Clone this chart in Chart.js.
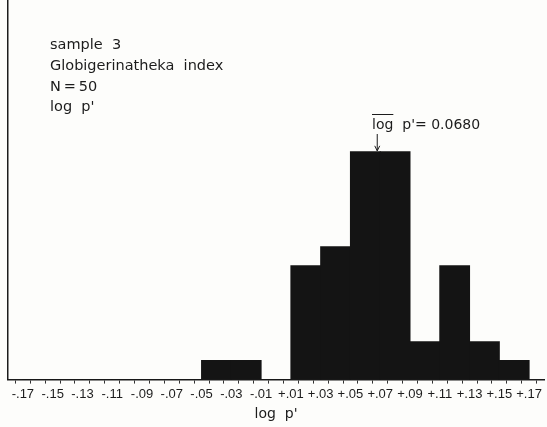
<!DOCTYPE html>
<html>
<head>
<meta charset="utf-8">
<script src="https://cdn.jsdelivr.net/npm/chart.js@4/dist/chart.umd.min.js"></script>
<style>
  html, body { margin: 0; padding: 0; background: #fdfdfb; }
  #wrap { width: 547px; height: 427px; position: relative; }
</style>
</head>
<body>
<div id="wrap"><canvas id="c"></canvas></div>
<script>
// Histogram of log p' (class width 0.02, class limits at odd hundredths)
const binCenters = [-0.16, -0.14, -0.12, -0.10, -0.08, -0.06, -0.04, -0.02, 0.00,
                     0.02,  0.04,  0.06,  0.08,  0.10,  0.12,  0.14,  0.16];
const counts     = [0, 0, 0, 0, 0, 0, 1, 1, 0,
                    6, 7, 12, 12, 2, 6, 2, 1];

// Labelled class limits along the axis
const tickValues = [-0.17, -0.15, -0.13, -0.11, -0.09, -0.07, -0.05, -0.03, -0.01,
                     0.01,  0.03,  0.05,  0.07,  0.09,  0.11,  0.13,  0.15,  0.17];
const tickLabels = ['-.17', '-.15', '-.13', '-.11', '-.09', '-.07', '-.05', '-.03', '-.01',
                    '+.01', '+.03', '+.05', '+.07', '+.09', '+.11', '+.13', '+.15', '+.17'];

const infoLines = ['sample  3', 'Globigerinatheka  index', 'N\u2009=\u200950', 'log  p\''];
const meanValue = 0.0680;
const meanLabel = '0.0680';

const INK = '#1c1c1c';
const FONT = '"DejaVu Sans", "Liberation Sans", sans-serif';
const TICK_FONT = '"Liberation Sans Narrow", "Liberation Sans", sans-serif';

const textPlugin = {
  id: 'histText',
  afterDraw(chart) {
    const ctx = chart.ctx;
    const xs = chart.scales.x, ys = chart.scales.y;
    ctx.save();
    ctx.fillStyle = INK;
    ctx.strokeStyle = INK;
    ctx.textBaseline = 'middle';
    ctx.textAlign = 'left';
    ctx.font = '14.5px ' + FONT;
    const lineY = [45, 66, 87, 107];
    infoLines.forEach((t, i) => ctx.fillText(t, 50, lineY[i]));

    // mean annotation with overlined "log" and arrow to the mean
    const mx = xs.getPixelForValue(meanValue);
    const top = ys.getPixelForValue(Math.max(...counts));
    const ay = 125;
    const lx = 372;
    ctx.font = '14px ' + FONT;
    ctx.fillText('log', lx, ay);
    const logW = ctx.measureText('log').width;
    ctx.lineWidth = 1;
    ctx.beginPath();
    ctx.moveTo(lx, ay - 10.5);
    ctx.lineTo(lx + logW, ay - 10.5);
    ctx.stroke();
    ctx.fillText('  p\'= ' + meanLabel, lx + logW, ay);

    ctx.beginPath();
    ctx.moveTo(mx, ay + 9);
    ctx.lineTo(mx, top - 1);
    ctx.stroke();
    ctx.beginPath();
    ctx.moveTo(mx - 2.5, top - 6);
    ctx.lineTo(mx, top - 1);
    ctx.lineTo(mx + 2.5, top - 6);
    ctx.stroke();
    ctx.restore();
  }
};

new Chart(document.getElementById('c'), {
  type: 'bar',
  data: {
    datasets: [{
      xAxisID: 'xb',
      data: binCenters.map((x, i) => ({ x: x, y: counts[i] })),
      backgroundColor: '#141414',
      borderWidth: 0,
      inflateAmount: 0.5,
      barPercentage: 1,
      categoryPercentage: 1
    }]
  },
  options: {
    responsive: true,
    maintainAspectRatio: false,
    animation: false,
    devicePixelRatio: 1,
    layout: { padding: { left: 8, right: 0, top: 0, bottom: 2 } },
    plugins: { legend: { display: false }, tooltip: { enabled: false } },
    scales: {
      // class-width axis used to place the bars
      xb: {
        type: 'linear',
        display: false,
        min: -0.18,
        max: 0.18,
        offset: false,
        ticks: { stepSize: 0.02, maxTicksLimit: 100 }
      },
      x: {
        type: 'linear',
        min: -0.18,
        max: 0.18,
        offset: false,
        grid: { display: true, drawOnChartArea: false, drawTicks: true, tickLength: 4, color: '#333', lineWidth: 1 },
        border: { display: true, color: INK, width: 1.5 },
        ticks: {
          stepSize: 0.01,
          autoSkip: false,
          maxTicksLimit: 100,
          maxRotation: 0,
          minRotation: 0,
          padding: 3,
          color: INK,
          font: { family: TICK_FONT, size: 13 },
          callback: (v) => {
            const i = tickValues.findIndex(t => Math.abs(t - v) < 1e-6);
            return i >= 0 ? tickLabels[i] : '';
          }
        },
        title: { display: true, text: 'log  p\'', color: INK, font: { family: FONT, size: 14 }, padding: { top: 1, bottom: 2 } }
      },
      y: {
        min: 0,
        max: 20,
        grid: { display: false, drawTicks: false },
        border: { display: true, color: INK, width: 1.5 },
        ticks: { display: false }
      }
    }
  },
  plugins: [textPlugin]
});
</script>
</body>
</html>
